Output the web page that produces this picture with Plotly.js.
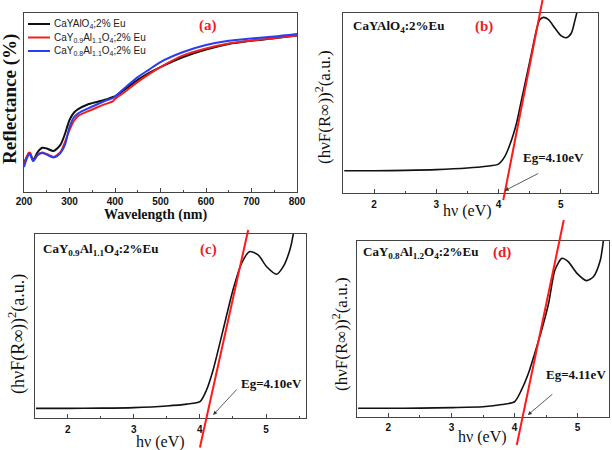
<!DOCTYPE html>
<html>
<head>
<meta charset="utf-8">
<script src="https://cdn.plot.ly/plotly-3.0.1.min.js"></script>
<style>html,body{margin:0;padding:0;background:#fff}#chart{width:612px;height:450px}</style>
</head>
<body>
<div id="chart"></div>
<script>
// ---------- Panel (a): diffuse reflectance ----------
const wavelength = [200,205,210,213,220,230,240,250,265,280,290,300,310,320,340,360,380,395,400,420,450,475,500,550,600,650,700,750,800];
const reflBlack = [16.2,19.0,21.2,21.8,17.9,22.3,24.7,24.3,22.9,26.3,32.4,40.2,44.4,46.4,48.9,50.3,51.7,53.1,53.4,57.0,62.6,66.5,69.8,75.4,79.6,82.7,84.5,85.9,87.4];
const reflRed   = [15.1,19.0,21.8,22.0,17.5,20.7,22.1,21.2,19.6,22.3,27.9,34.6,39.9,42.7,45.0,47.2,49.2,50.6,52.0,55.6,61.5,65.9,69.8,76.3,80.2,83.0,84.6,86.0,87.4];
const reflBlue  = [14.0,17.9,20.7,21.2,17.3,20.7,21.8,20.9,19.3,21.8,26.3,36.3,41.9,44.1,46.6,48.9,51.1,52.5,53.4,57.8,64.2,68.4,72.6,78.2,82.1,84.5,85.8,86.9,88.3];
const seriesNames = ['CaYAlO<sub>4</sub>;2% Eu','CaY<sub>0.9</sub>Al<sub>1.1</sub>O<sub>4</sub>;2% Eu','CaY<sub>0.8</sub>Al<sub>1.1</sub>O<sub>4</sub>;2% Eu'];
const seriesColors = ['#111111','#f02020','#2a3cf0'];

// ---------- Panel (b) ----------
const evB = [1.52,2.0,2.5,3.0,3.5,3.8,4.0,4.1,4.21,4.29,4.37,4.45,4.53,4.61,4.66,4.72,4.80,4.91,5.01,5.09,5.17,5.23,5.27,5.32];
const kmB = [1.22,1.22,1.24,1.28,1.37,1.47,1.59,2.0,2.93,3.86,5.15,6.44,7.74,9.04,9.59,9.74,9.63,9.13,8.71,8.61,8.86,9.59,10.15,11.0];
const fitB_x = [4.077,4.708];
const fitB_y = [-0.41,10.7];
const egB = 4.10;

// ---------- Panel (c) ----------
const evC = [1.52,2.0,2.5,3.0,3.5,3.8,4.0,4.1,4.2,4.35,4.5,4.63,4.75,4.88,5.01,5.16,5.26,5.36,5.41,5.45];
const kmC = [0.51,0.51,0.52,0.55,0.64,0.74,0.87,1.51,2.60,4.77,6.95,8.40,9.04,8.86,8.22,7.81,8.22,9.13,9.95,11.0];
const fitC_x = [4.0,4.73];
const fitC_y = [-1.62,10.22];
const egC = 4.10;

// ---------- Panel (d) ----------
const evD = [1.52,2.0,2.5,3.0,3.5,3.8,4.0,4.11,4.22,4.32,4.43,4.54,4.64,4.75,4.85,4.99,5.14,5.25,5.36,5.41,5.45];
const kmD = [0.51,0.51,0.52,0.55,0.60,0.72,0.88,1.55,2.49,3.62,4.94,6.46,8.34,9.0,8.81,8.15,7.74,7.96,8.91,10.04,11.0];
const fitD_x = [4.035,4.78];
const fitD_y = [-1.57,11.17];
const egD = 4.11;

const panelLabels = ['(a)','(b)','(c)','(d)'];
const sampleLabels = ['CaYAlO<sub>4</sub>:2%Eu','CaY<sub>0.9</sub>Al<sub>1.1</sub>O<sub>4</sub>:2%Eu','CaY<sub>0.8</sub>Al<sub>1.2</sub>O<sub>4</sub>:2%Eu'];
const egTexts = ['Eg=' + egB.toFixed(2) + 'eV','Eg=' + egC.toFixed(2) + 'eV','Eg=' + egD.toFixed(2) + 'eV'];

// ---------- layout helpers ----------
const W = 612, H = 450;
const fx = p => p / W;
const fy = p => 1 - p / H;
const SERIF = 'Liberation Serif, Times New Roman, serif';
const SANS = 'Liberation Sans, Arial, sans-serif';
const RED = '#ee1c24';
const AX = '#444';

const domA = {x:[fx(24),fx(297)], y:[fy(192),fy(13)]};
const domB = {x:[fx(343),fx(598)], y:[fy(192.7),fy(12.7)]};
const domC = {x:[fx(34.6),fx(305.7)], y:[fy(417.7),fy(234)]};
const domD = {x:[fx(356.8),fx(609.2)], y:[fy(417.3),fy(240.7)]};
const rngA = {x:[200,800], y:[0,100]};
const rngB = {x:[1.5,5.6], y:[0,10]};
const rngC = {x:[1.5,5.6], y:[0,10]};
const rngD = {x:[1.5,5.5], y:[0,10]};

function xAx(dom, rng, anchor, dtick, minor, standoff){
  return {domain:dom, range:rng, anchor:anchor, dtick:dtick, tick0:0,
    ticks:'inside', ticklen:4, tickwidth:1, tickcolor:AX,
    minor:{ticks:'inside', ticklen:2, dtick:minor, tickcolor:AX},
    showline:true, linecolor:AX, linewidth:1, mirror:true,
    showgrid:false, zeroline:false, fixedrange:true,
    tickfont:{family:SANS, size:10, color:'#111', weight:'bold'}, ticklabelstandoff:standoff};
}
function yAx(dom, rng, anchor){
  return {domain:dom, range:rng, anchor:anchor, showticklabels:false, ticks:'',
    showline:true, linecolor:AX, linewidth:1, mirror:true,
    showgrid:false, zeroline:false, fixedrange:true};
}
function overlayRange(r, d){
  const k = (r[1]-r[0])/(d[1]-d[0]);
  return [r[0]-d[0]*k, r[1]+(1-d[1])*k];
}
function ovAx(dom, rng, anchor){
  return {domain:[0,1], range:overlayRange(rng, dom), anchor:anchor, visible:false, fixedrange:true};
}

const traces = [];
[reflBlack, reflRed, reflBlue].forEach((ys, i) => {
  traces.push({x:wavelength, y:ys, xaxis:'x', yaxis:'y', type:'scatter', mode:'lines',
    line:{color:seriesColors[i], width:2, shape:'spline', smoothing:0.7}, showlegend:false, hoverinfo:'skip'});
});
[[evB,kmB,'x2','y2'],[evC,kmC,'x3','y3'],[evD,kmD,'x4','y4']].forEach(([xs,ys,xa,ya]) => {
  traces.push({x:xs, y:ys, xaxis:xa, yaxis:ya, type:'scatter', mode:'lines',
    line:{color:'#111', width:1.6, shape:'spline', smoothing:0.7}, showlegend:false, hoverinfo:'skip'});
});
[[fitB_x,fitB_y,'x5','y5'],[fitC_x,fitC_y,'x6','y6'],[fitD_x,fitD_y,'x7','y7']].forEach(([xs,ys,xa,ya]) => {
  traces.push({x:xs, y:ys, xaxis:xa, yaxis:ya, type:'scatter', mode:'lines',
    line:{color:'#ff1a1a', width:2}, showlegend:false, hoverinfo:'skip'});
});

const ann = [];
const shapes = [];
// legend of panel (a)
const legRows = [24, 37.5, 51];
seriesNames.forEach((n, i) => {
  shapes.push({type:'line', xref:'paper', yref:'paper', x0:fx(28), x1:fx(50), y0:fy(legRows[i]), y1:fy(legRows[i]),
    line:{color:seriesColors[i], width:2}});
  ann.push({xref:'paper', yref:'paper', x:fx(52), y:fy(legRows[i]), xanchor:'left', yanchor:'middle',
    text:n, showarrow:false, font:{family:SANS, size:10, color:'#222'}});
});
function txt(t, x, y, font, extra){
  ann.push(Object.assign({xref:'paper', yref:'paper', x:fx(x), y:fy(y), text:t, showarrow:false,
    xanchor:'center', yanchor:'middle', font:font}, extra||{}));
}
const redFont = {family:SERIF, size:15, color:RED, weight:'bold'};
txt(panelLabels[0], 208, 25, redFont);
txt(panelLabels[1], 484, 26, redFont);
txt(panelLabels[2], 208, 249, redFont);
txt(panelLabels[3], 502, 253, redFont);
const lblFont = {family:SERIF, size:13, color:'#111', weight:'bold'};
txt(sampleLabels[0], 351, 26, lblFont, {xanchor:'left'});
txt(sampleLabels[1], 41, 249, lblFont, {xanchor:'left'});
txt(sampleLabels[2], 361, 253, lblFont, {xanchor:'left'});
const egFont = {family:SERIF, size:13, color:'#111', weight:'bold'};
txt(egTexts[0], 553, 157, egFont);
txt(egTexts[1], 271, 383, egFont);
txt(egTexts[2], 576, 374, egFont);
// axis titles
txt('Reflectance (%)', 10, 99, {family:SERIF, size:19, color:'#111', weight:'bold'}, {textangle:-90});
txt('Wavelength (nm)', 155, 215, {family:SERIF, size:14, color:'#111', weight:'bold'});
const yTitle = '(h\u03bdF(R\u221e))<sup>2</sup>(a.u.)';
const xTitle = 'h\u03bd (eV)';
txt(yTitle, 323, 107, {family:SERIF, size:17, color:'#111'}, {textangle:-90});
txt(yTitle, 17, 334, {family:SERIF, size:18, color:'#111'}, {textangle:-90});
txt(yTitle, 340, 334, {family:SERIF, size:17, color:'#111'}, {textangle:-90});
txt(xTitle, 468, 211, {family:SERIF, size:16, color:'#111'});
txt(xTitle, 160, 442, {family:SERIF, size:16, color:'#111'});
txt(xTitle, 482, 437, {family:SERIF, size:16, color:'#111'});
// arrows to the band-gap intercepts
[[egB,0.11,'x2','y2',35,-18],[egC+0.1,0.15,'x3','y3',25,-27],[egD+0.1,0.13,'x4','y4',26,-22]].forEach(([x,y,xa,ya,ax,ay]) => {
  ann.push({xref:xa, yref:ya, x:x, y:y, ax:ax, ay:ay, text:'', showarrow:true,
    arrowhead:2, arrowsize:1, arrowwidth:0.8, arrowcolor:'#333', standoff:0, startstandoff:0});
});

const layout = {
  width:W, height:H, margin:{l:0,r:0,t:0,b:0},
  paper_bgcolor:'#fff', plot_bgcolor:'rgba(0,0,0,0)', showlegend:false,
  xaxis: xAx(domA.x, rngA.x, 'y', 100, 50, 0),
  yaxis: yAx(domA.y, rngA.y, 'x'),
  xaxis2: xAx(domB.x, rngB.x, 'y2', 1, 0.5, 2),
  yaxis2: yAx(domB.y, rngB.y, 'x2'),
  xaxis3: xAx(domC.x, rngC.x, 'y3', 1, 0.5, 2),
  yaxis3: yAx(domC.y, rngC.y, 'x3'),
  xaxis4: xAx(domD.x, rngD.x, 'y4', 1, 0.5, 1),
  yaxis4: yAx(domD.y, rngD.y, 'x4'),
  xaxis5: ovAx(domB.x, rngB.x, 'y5'), yaxis5: ovAx(domB.y, rngB.y, 'x5'),
  xaxis6: ovAx(domC.x, rngC.x, 'y6'), yaxis6: ovAx(domC.y, rngC.y, 'x6'),
  xaxis7: ovAx(domD.x, rngD.x, 'y7'), yaxis7: ovAx(domD.y, rngD.y, 'x7'),
  annotations: ann, shapes: shapes
};
Plotly.newPlot('chart', traces, layout, {staticPlot:true, displayModeBar:false});
</script>
</body>
</html>
